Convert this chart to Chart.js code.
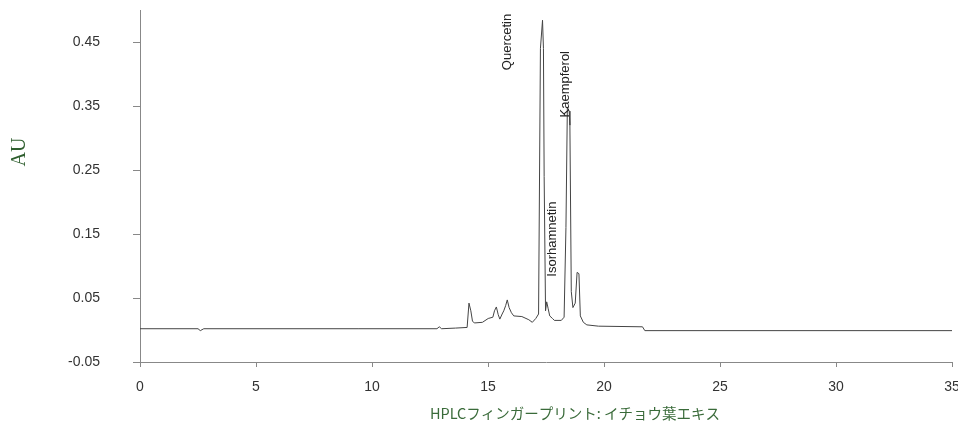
<!DOCTYPE html>
<html>
<head>
<meta charset="utf-8">
<script src="https://cdn.jsdelivr.net/npm/chart.js@4.4.1/dist/chart.umd.min.js"></script>
<style>
  html, body { margin: 0; padding: 0; background: #fff; }
  #wrap { width: 958px; height: 432px; }
</style>
</head>
<body>
<div id="wrap"><canvas id="hplcChart" width="958" height="432"></canvas></div>
<script>
// retention time (min) and absorbance
const RET_TIME = [0, 2.5, 2.6, 2.75, 9.4, 12.8, 12.9, 13.0, 13.6, 14.1,
  14.18, 14.26, 14.33, 14.41, 14.76, 15.01, 15.21, 15.28, 15.36, 15.44,
  15.51, 15.61, 15.68, 15.76, 15.83, 15.91, 16.01, 16.11, 16.46, 16.76,
  16.91, 17.06, 17.18, 17.26, 17.35, 17.39, 17.42, 17.48, 17.53, 17.59,
  17.66, 17.78, 17.86, 18.16, 18.28, 18.36, 18.42, 18.5, 18.53, 18.59,
  18.66, 18.76, 18.84, 18.92, 18.98, 19.11, 19.26, 19.76, 21.66, 21.76, 35];
const ABSORBANCE = [0.002, 0.002, -0.001, 0.002, 0.002, 0.002, 0.005, 0.002, 0.003, 0.004,
  0.042, 0.030, 0.014, 0.011, 0.012, 0.018, 0.020, 0.030, 0.036, 0.024,
  0.017, 0.025, 0.030, 0.038, 0.047, 0.035, 0.027, 0.022, 0.021, 0.016,
  0.012, 0.018, 0.025, 0.440, 0.484, 0.440, 0.240, 0.030, 0.044, 0.034,
  0.022, 0.018, 0.015, 0.015, 0.020, 0.160, 0.348, 0.342, 0.320, 0.060,
  0.035, 0.042, 0.090, 0.088, 0.022, 0.012, 0.008, 0.006, 0.005, -0.001, -0.001];

const X_TICKS = [0, 5, 10, 15, 20, 25, 30, 35];
const Y_TICKS = [-0.05, 0.05, 0.15, 0.25, 0.35, 0.45];

const PEAK_NAMES = ['Quercetin', 'Kaempferol', 'Isorhamnetin'];
const PEAK_TIME  = [15.82, 18.32, 17.76];
const PEAK_AU    = [0.450, 0.384, 0.142];

const Y_TITLE = 'AU';
const X_TITLE = 'HPLCフィンガープリント: イチョウ葉エキス';

const points = RET_TIME.map((t, i) => ({ x: t, y: ABSORBANCE[i] }));

const labelsPlugin = {
  id: 'peakLabels',
  afterDraw(chart) {
    const ctx = chart.ctx;
    const xs = chart.scales.x, ys = chart.scales.y;
    ctx.save();
    ctx.fillStyle = '#222';
    ctx.font = '13px "Liberation Sans", Arial, sans-serif';
    ctx.textAlign = 'center';
    ctx.textBaseline = 'middle';
    PEAK_NAMES.forEach((name, i) => {
      ctx.save();
      ctx.translate(xs.getPixelForValue(PEAK_TIME[i]), ys.getPixelForValue(PEAK_AU[i]));
      ctx.rotate(-Math.PI / 2);
      ctx.fillText(name, 0, 0);
      ctx.restore();
    });

    // axis titles
    ctx.fillStyle = '#2f5f2f';
    ctx.font = '20px "Liberation Serif", "DejaVu Serif", serif';
    ctx.save();
    ctx.translate(20, 152);
    ctx.rotate(-Math.PI / 2);
    ctx.fillText(Y_TITLE, 0, 0);
    ctx.restore();

    ctx.fillStyle = '#3a6b3a';
    ctx.font = '14.5px "Noto Sans CJK JP", "Noto Sans", sans-serif';
    ctx.fillText(X_TITLE, 575, 413);
    ctx.restore();
  }
};

new Chart(document.getElementById('hplcChart'), {
  type: 'line',
  data: {
    datasets: [{
      data: points,
      borderColor: '#444',
      borderWidth: 1,
      pointRadius: 0,
      tension: 0,
      fill: false
    }]
  },
  options: {
    responsive: false,
    animation: false,
    devicePixelRatio: 1,
    layout: { padding: { top: 10, right: 6, left: 0, bottom: 0 } },
    plugins: { legend: { display: false }, tooltip: { enabled: false } },
    scales: {
      x: {
        type: 'linear',
        min: 0, max: 35,
        afterBuildTicks: s => { s.ticks = X_TICKS.map(v => ({ value: v })); },
        afterFit: s => { s.height = 70; s.paddingLeft = 0; s.paddingRight = 0; },
        grid: { display: true, drawOnChartArea: false, drawTicks: true, tickLength: 5, color: '#888' },
        border: { display: true, color: '#888', width: 1 },
        ticks: {
          color: '#333', padding: 12, maxRotation: 0,
          font: { family: '"Liberation Sans", Arial, sans-serif', size: 14 },
          callback: v => String(v)
        }
      },
      y: {
        type: 'linear',
        min: -0.05, max: 0.5,
        afterBuildTicks: s => { s.ticks = Y_TICKS.map(v => ({ value: v })); },
        afterFit: s => { s.width = 140; s.paddingTop = 0; s.paddingBottom = 0; },
        grid: { display: true, drawOnChartArea: false, drawTicks: true, tickLength: 7, color: '#888' },
        border: { display: true, color: '#888', width: 1 },
        ticks: {
          color: '#333', padding: 33,
          font: { family: '"Liberation Sans", Arial, sans-serif', size: 14 },
          callback: v => v.toFixed(2)
        }
      }
    }
  },
  plugins: [labelsPlugin]
});
</script>
</body>
</html>
